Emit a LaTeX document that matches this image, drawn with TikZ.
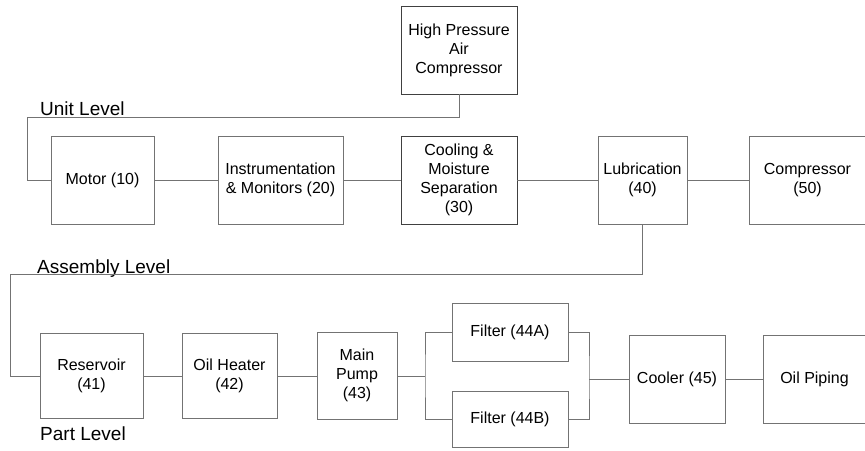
\documentclass[tikz,border=0pt]{standalone}
\usepackage{fontspec}
\setmainfont{Liberation Sans}
\begin{document}
\begin{tikzpicture}[x=1pt,y=-1pt,
  line/.style={draw=black!55,line width=0.9pt},
  box/.style={draw=black!55,line width=0.9pt,inner sep=0pt,align=center,text=black,
    font=\fontsize{16}{19}\selectfont,minimum height=88pt},
  darkbox/.style={box,draw=black!75},
  lvl/.style={inner sep=0pt,anchor=base west,text=black,font=\fontsize{19}{22}\selectfont}]
\useasboundingbox (0,0) rectangle (865,450);
% row 1
\node[darkbox,minimum width=116pt] (hpac) at (459,50) {High Pressure\\Air\\Compressor};
\node[box,minimum width=103pt] (motor) at (102.5,180) {Motor (10)};
\node[box,minimum width=125pt] (instr) at (280.5,180) {Instrumentation\\\& Monitors (20)};
\node[darkbox,minimum width=116pt] (cool) at (459,180) {Cooling \&\\Moisture\\Separation\\(30)};
\node[box,minimum width=89pt] (lub) at (642.5,180) {Lubrication\\(40)};
\node[box,minimum width=117pt] (comp) at (807.5,180) {Compressor\\(50)};
% row 3
\node[box,minimum width=103pt,minimum height=85pt] (res) at (91.5,375.5) {Reservoir\\(41)};
\node[box,minimum width=95pt,minimum height=85pt] (heat) at (229.5,375.5) {Oil Heater\\(42)};
\node[box,minimum width=80pt,minimum height=87pt] (pump) at (357,375.5) {Main\\Pump\\(43)};
\node[box,minimum width=116pt,minimum height=58pt] (fA) at (510,332) {Filter (44A)};
\node[box,minimum width=116pt,minimum height=56pt] (fB) at (510,419) {Filter (44B)};
\node[box,minimum width=96pt] (cooler) at (677,379) {Cooler (45)};
\node[box,minimum width=103pt] (pipe) at (814.5,379) {Oil Piping};
% labels
\node[lvl] (ul) at (40,115) {Unit Level};
\node[lvl] (al) at (37,273) {Assembly Level};
\node[lvl] (pl) at (40,440) {Part Level};
% coordinates
\coordinate (u1) at (27,117);
\coordinate (u2) at (27,180);
\coordinate (a1) at (10,274);
\coordinate (a2) at (10,376);
\coordinate (s) at (425,376);
\coordinate (m) at (589,379);
% connectors
\draw[line] (hpac.south) |- (u1) -- (u2) -- (motor.west);
\draw[line] (motor.east) -- (instr.west);
\draw[line] (instr.east) -- (cool.west);
\draw[line] (cool.east) -- (lub.west);
\draw[line] (lub.east) -- (comp.west);
\draw[line] (lub.south) |- (a1) -- (a2) -- (res.west |- a2);
\draw[line] (res.east |- a2) -- (heat.west |- a2);
\draw[line] (heat.east |- a2) -- (pump.west |- a2);
\draw[line] (pump.east |- s) -- (s);
\draw[line] (fA.west) -| (s) |- (fB.west);
\draw[line] (fA.east) -| (m) |- (fB.east);
\draw[line] (m) -- (cooler.west);
\draw[line] (cooler.east) -- (pipe.west);
\end{tikzpicture}
\end{document}
